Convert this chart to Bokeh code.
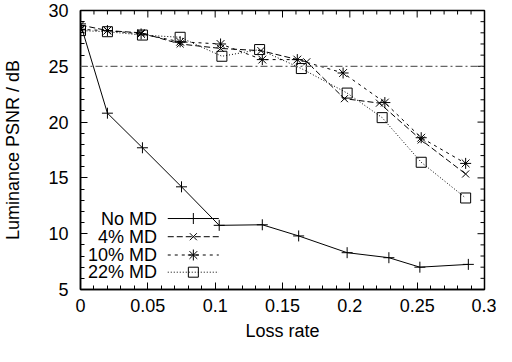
from bokeh.plotting import figure
from bokeh.models import FixedTicker, CustomJSTickFormatter, Range1d, Span
from bokeh.core.properties import value
from bokeh.embed import file_html
from bokeh.resources import INLINE
import math

# ---- data ----
no_md_x = [0, 0.02, 0.046, 0.075, 0.103, 0.135, 0.162, 0.198, 0.229, 0.252, 0.288]
no_md_y = [28.8, 20.8, 17.7, 14.2, 10.75, 10.8, 9.8, 8.3, 7.85, 7.0, 7.25]

md4_x = [0, 0.02, 0.045, 0.074, 0.104, 0.134, 0.168, 0.196, 0.222, 0.253, 0.286]
md4_y = [28.7, 28.2, 28.0, 27.0, 26.6, 26.4, 25.4, 22.1, 21.7, 18.4, 15.35]

md10_x = [0, 0.02, 0.045, 0.074, 0.104, 0.135, 0.161, 0.195, 0.226, 0.253, 0.286]
md10_y = [28.3, 28.2, 27.9, 27.2, 27.0, 25.6, 25.6, 24.4, 21.75, 18.6, 16.3]

md22_x = [0, 0.02, 0.046, 0.074, 0.105, 0.133, 0.164, 0.198, 0.224, 0.253, 0.286]
md22_y = [28.2, 28.1, 27.8, 27.6, 25.9, 26.5, 24.8, 22.6, 20.4, 16.4, 13.2]

threshold = 25
series_names = ["No MD", "4% MD", "10% MD", "22% MD"]
x_tick_values = [0, 0.05, 0.1, 0.15, 0.2, 0.25, 0.3]
y_tick_values = [5, 10, 15, 20, 25, 30]

X_MIN, X_MAX, X_MINOR = 0.0, 0.3, 0.01
Y_MIN, Y_MAX, Y_MINOR = 5, 30, 1

FONT = "Liberation Sans"
FS = "18px"

p = figure(width=496, height=346, output_backend="svg", toolbar_location=None,
           x_range=Range1d(X_MIN, X_MAX), y_range=Range1d(Y_MIN, Y_MAX),
           min_border_left=76, min_border_right=12, min_border_top=10, min_border_bottom=57,
           background_fill_color="white", border_fill_color="white")
p.grid.visible = False
p.outline_line_color = "black"
p.outline_line_width = 1.5

nx_minor = int(round((X_MAX - X_MIN) / X_MINOR))
ny_minor = int(round((Y_MAX - Y_MIN) / Y_MINOR))
x_minor = [round(X_MIN + i * X_MINOR, 4) for i in range(nx_minor + 1) if i % 5]
y_minor = [Y_MIN + i * Y_MINOR for i in range(ny_minor + 1) if i % 5]

xt = FixedTicker(ticks=x_tick_values, minor_ticks=x_minor)
yt = FixedTicker(ticks=y_tick_values, minor_ticks=y_minor)
fmt = CustomJSTickFormatter(code="return String(parseFloat(tick.toFixed(3)));")

for ax in (p.xaxis[0], p.yaxis[0]):
    ax.axis_line_color = "black"
    ax.axis_line_width = 1.5
    ax.major_tick_in = 7
    ax.major_tick_out = 0
    ax.minor_tick_in = 4
    ax.minor_tick_out = 0
    ax.major_tick_line_color = "black"
    ax.minor_tick_line_color = "black"
    ax.major_label_text_font = FONT
    ax.major_label_text_font_size = FS
    ax.major_label_text_color = "black"
    ax.axis_label_text_font = FONT
    ax.axis_label_text_font_size = FS
    ax.axis_label_text_font_style = "normal"
    ax.axis_label_text_color = "black"

p.xaxis.ticker = xt
p.xaxis.formatter = fmt
p.yaxis.ticker = yt
p.xaxis.axis_label = "Loss rate"
p.yaxis.axis_label = "Luminance PSNR / dB"
p.xaxis.major_label_standoff = 9
p.xaxis.axis_label_standoff = 6
p.yaxis.major_label_standoff = 12
p.yaxis.axis_label_standoff = 22

# mirrored inward ticks on top and right edges (clipped to the frame)
p.scatter(x_tick_values, [Y_MAX] * len(x_tick_values), marker="dash", angle=math.pi / 2,
          size=14, line_color="black", line_width=1)
p.scatter(x_minor, [Y_MAX] * len(x_minor), marker="dash", angle=math.pi / 2, size=8,
          line_color="black", line_width=1)
p.scatter([X_MAX] * len(y_tick_values), y_tick_values, marker="dash", size=14,
          line_color="black", line_width=1)
p.scatter([X_MAX] * len(y_minor), y_minor, marker="dash", size=8,
          line_color="black", line_width=1)

# threshold line
p.add_layout(Span(location=threshold, dimension="width", line_color="#666666",
                  line_width=1.2, line_dash="7 3 2 3"))

styles = [
    dict(x=no_md_x, y=no_md_y, dash="solid", marker="cross", size=11),
    dict(x=md4_x, y=md4_y, dash="6 3", marker="x", size=10),
    dict(x=md10_x, y=md10_y, dash="3 4", marker="asterisk", size=11),
    dict(x=md22_x, y=md22_y, dash="1 2", marker="square", size=10),
]

for s in styles:
    p.line(s["x"], s["y"], line_color="black", line_width=1, line_dash=s["dash"])
    p.scatter(s["x"], s["y"], marker=s["marker"], size=s["size"], line_color="black",
              fill_color=None, line_width=1)

# legend (gnuplot style: text right-aligned, sample line with marker)
leg_text_x = 0.0568
leg_line_x0 = 0.0648
leg_line_x1 = 0.1027
leg_mark_x = 0.0838
leg_rows = [11.36, 9.73, 8.09, 6.55]

for name, s, yy in zip(series_names, styles, leg_rows):
    p.text(x=[leg_text_x], y=[yy], text=[name], text_align="right", text_baseline="middle",
           text_font=value(FONT), text_font_size=FS, text_color="black")
    p.line([leg_line_x0, leg_line_x1], [yy, yy], line_color="black", line_width=1,
           line_dash=s["dash"])
    p.scatter([leg_mark_x], [yy], marker=s["marker"], size=s["size"], line_color="black",
              fill_color=None, line_width=1)

open("out.html", "w").write(file_html(p, INLINE))
